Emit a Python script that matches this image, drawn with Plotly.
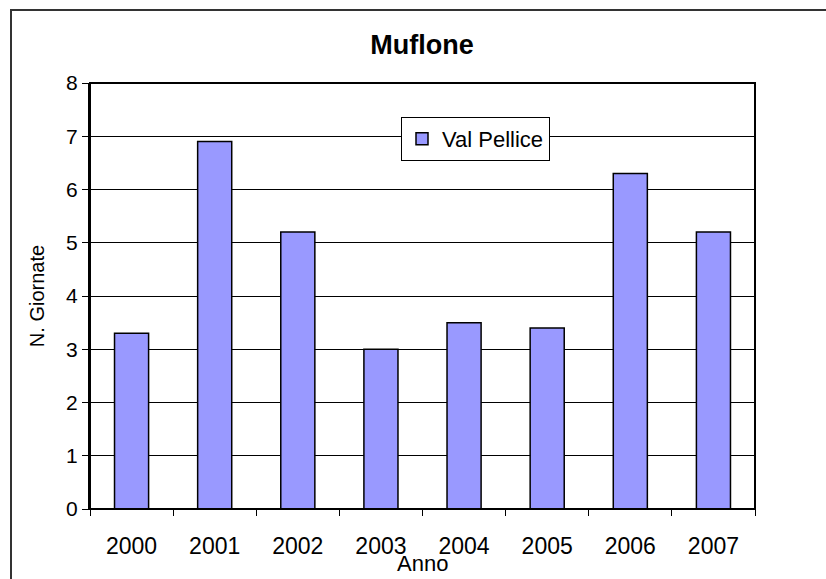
import plotly.graph_objects as go

years = ["2000", "2001", "2002", "2003", "2004", "2005", "2006", "2007"]
giornate = [3.3, 6.9, 5.2, 3.0, 3.5, 3.4, 6.3, 5.2]
y_ticks = [0, 1, 2, 3, 4, 5, 6, 7, 8]

fig = go.Figure()
fig.add_trace(go.Bar(
    x=years, y=giornate, name="Val Pellice",
    marker=dict(color="#9999FF", line=dict(color="black", width=1.5)),
    width=0.41,
))

W, H = 826, 579
L, T = 90, 83
R = W - 755
B = H - 509
pw, ph = W - L - R, H - T - B

def px(x):
    return (x - L) / pw

def py(y):
    return (509 - y) / ph

fig.update_layout(
    width=W, height=H,
    margin=dict(l=L, r=R, t=T, b=B, pad=0),
    paper_bgcolor="white", plot_bgcolor="white",
    font=dict(family="Liberation Sans, Arial, sans-serif", size=21, color="black"),
    title=dict(text="<b>Muflone</b>", x=px(422), xref="paper", xanchor="center",
               y=1 - 45 / H, yanchor="middle", font=dict(size=27)),
    showlegend=True,
    legend=dict(x=px(401), y=py(117), xanchor="left", yanchor="top",
                bgcolor="white", bordercolor="black", borderwidth=1,
                font=dict(size=22), itemwidth=30),
    bargap=0.59,
)
fig.update_xaxes(
    type="category", showgrid=False, showline=True, linecolor="black", linewidth=1,
    ticks="outside", tickson="boundaries", ticklen=6, tickcolor="black",
    ticklabelstandoff=16, automargin=False, tickfont=dict(size=23),
)
fig.update_yaxes(
    range=[0, 8], tickvals=y_ticks, showgrid=True, gridcolor="black", gridwidth=1,
    showline=True, linecolor="black", linewidth=2, ticks="outside", ticklen=6,
    tickcolor="black", zeroline=False, automargin=False, tickfont=dict(size=21),
    title=dict(text="N. Giornate", standoff=16, font=dict(size=20)),
)
fig.add_annotation(text="Anno", xref="paper", yref="paper", x=px(422), y=py(563),
                   xanchor="center", yanchor="middle", showarrow=False,
                   font=dict(size=22))
# plot area frame
fig.add_shape(type="rect", xref="paper", yref="paper", x0=0, x1=1, y0=0, y1=1,
              line=dict(color="black", width=2), layer="above")
# outer chart border
fig.add_shape(type="rect", xref="paper", yref="paper",
              x0=px(11), x1=1.3, y0=-0.3, y1=py(10),
              line=dict(color="#333333", width=2), layer="above")

fig.write_html(
    "out.html",
    config={"displayModeBar": False},
    post_script="document.body.style.margin='0';document.body.style.overflow='hidden';",
)
